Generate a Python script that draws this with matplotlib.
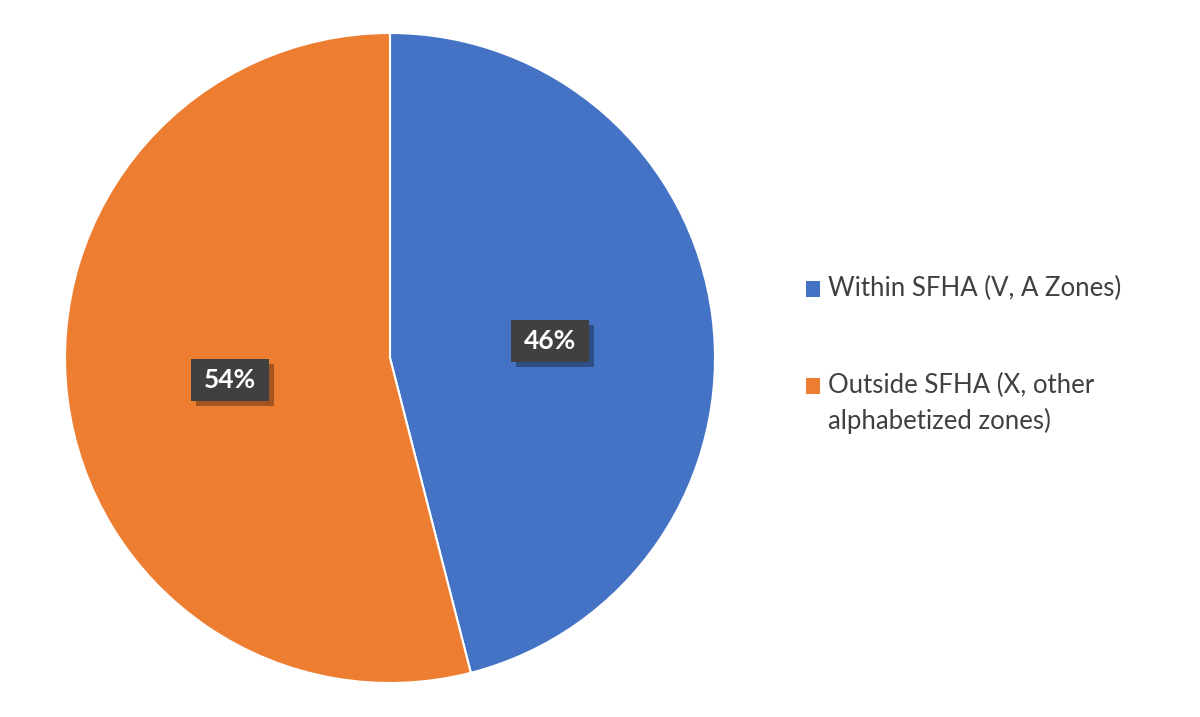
import matplotlib
matplotlib.use("Agg")
import matplotlib.pyplot as plt

labels = ["Within SFHA (V, A Zones)", "Outside SFHA (X, other\nalphabetized zones)"]
values = [46, 54]
colors = ["#4472C4", "#ED7D31"]

fig = plt.figure(figsize=(12, 7.17), dpi=100)
ax = fig.add_axes([65/1200, 34/717, 650/1200, 650/717])
wedges, _ = ax.pie(values, colors=colors, startangle=90, counterclock=False,
                   wedgeprops=dict(edgecolor="white", linewidth=1.5))
ax.set_xlim(-1.0, 1.0)
ax.set_ylim(-1.0, 1.0)
ax.set_aspect("equal")

pos = [(550, 341), (230, 380)]
bw, bh = 78, 42
for (px, py), v in zip(pos, values):
    fx, fy = px/1200, 1 - py/717
    fig.patches.append(plt.Rectangle(((px - bw/2 + 5)/1200, 1 - (py + bh/2 + 5)/717),
                                     bw/1200, bh/717, transform=fig.transFigure,
                                     fc="#00000050", ec="none"))
    fig.patches.append(plt.Rectangle(((px - bw/2)/1200, 1 - (py + bh/2)/717),
                                     bw/1200, bh/717, transform=fig.transFigure,
                                     fc="#404040", ec="none"))
    fig.text(fx, fy, f"{v}%", ha="center", va="center", fontsize=19,
             fontweight="bold", color="white", family="Lato")

ys = [289, 386]
for y, lab, c in zip(ys, labels, colors):
    fig.patches.append(plt.Rectangle((806/1200, 1 - (y + 8)/717), 14/1200, 16/717,
                                     transform=fig.transFigure, fc=c, ec="none"))
    fig.text(828/1200, 1 - (y - 13)/717, lab, ha="left", va="top", fontsize=18.5,
             color="#404040", family="Lato", linespacing=1.45)

fig.savefig("out.png", dpi=100)
